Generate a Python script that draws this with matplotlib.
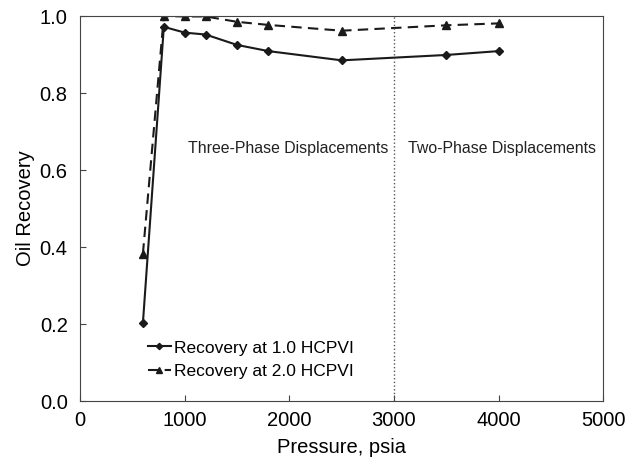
import matplotlib
matplotlib.use("Agg")
from matplotlib import pyplot as plt

# data
pressure = [600, 800, 1000, 1200, 1500, 1800, 2500, 3500, 4000]
rec_1hcpvi = [0.203, 0.972, 0.957, 0.952, 0.925, 0.909, 0.885, 0.899, 0.909]
rec_2hcpvi = [0.383, 1.0, 0.999, 0.999, 0.985, 0.977, 0.962, 0.976, 0.981]

plt.rcParams['font.family'] = ['Liberation Sans', 'DejaVu Sans']

fig = plt.figure(figsize=(6.31, 4.59), dpi=100)
ax = fig.add_axes([0.127, 0.126, 0.829, 0.839])

ax.plot(pressure, rec_1hcpvi, color="#1a1a1a", lw=1.5, marker="D", ms=4,
        label="Recovery at 1.0 HCPVI")
ax.plot(pressure, rec_2hcpvi, color="#1a1a1a", lw=1.5, ls=(0, (5, 3)), marker="^", ms=6,
        label="Recovery at 2.0 HCPVI")

# boundary between three- and two-phase regions
ax.axvline(3000, color="#555555", lw=1, ls=":")
ax.text(1990, 0.655, "Three-Phase Displacements", ha="center", va="center", fontsize=11.4, color="#222222")
ax.text(4030, 0.655, "Two-Phase Displacements", ha="center", va="center", fontsize=11.4, color="#222222")

ax.set_xlim(0, 5000)
ax.set_ylim(0, 1.0)
ax.set_xticks([0, 1000, 2000, 3000, 4000, 5000])
ax.set_yticks([0.0, 0.2, 0.4, 0.6, 0.8, 1.0])
ax.set_yticklabels(["0.0", "0.2", "0.4", "0.6", "0.8", "1.0"])
ax.tick_params(direction="in", labelsize=14.5, length=4, color="#444444")
ax.tick_params(axis="y", pad=9)
ax.tick_params(axis="x", pad=7)
ax.set_xlabel("Pressure, psia", fontsize=14.5, labelpad=6)
ax.set_ylabel("Oil Recovery", fontsize=14.5, labelpad=3)
for s in ax.spines.values():
    s.set_color("#444444")

ax.legend(loc="lower left", bbox_to_anchor=(0.1, 0.016), frameon=False, fontsize=12.5,
          handlelength=1.3, handletextpad=0.2, labelspacing=0.5, markerscale=0.8)

fig.savefig("out.png", dpi=100)
